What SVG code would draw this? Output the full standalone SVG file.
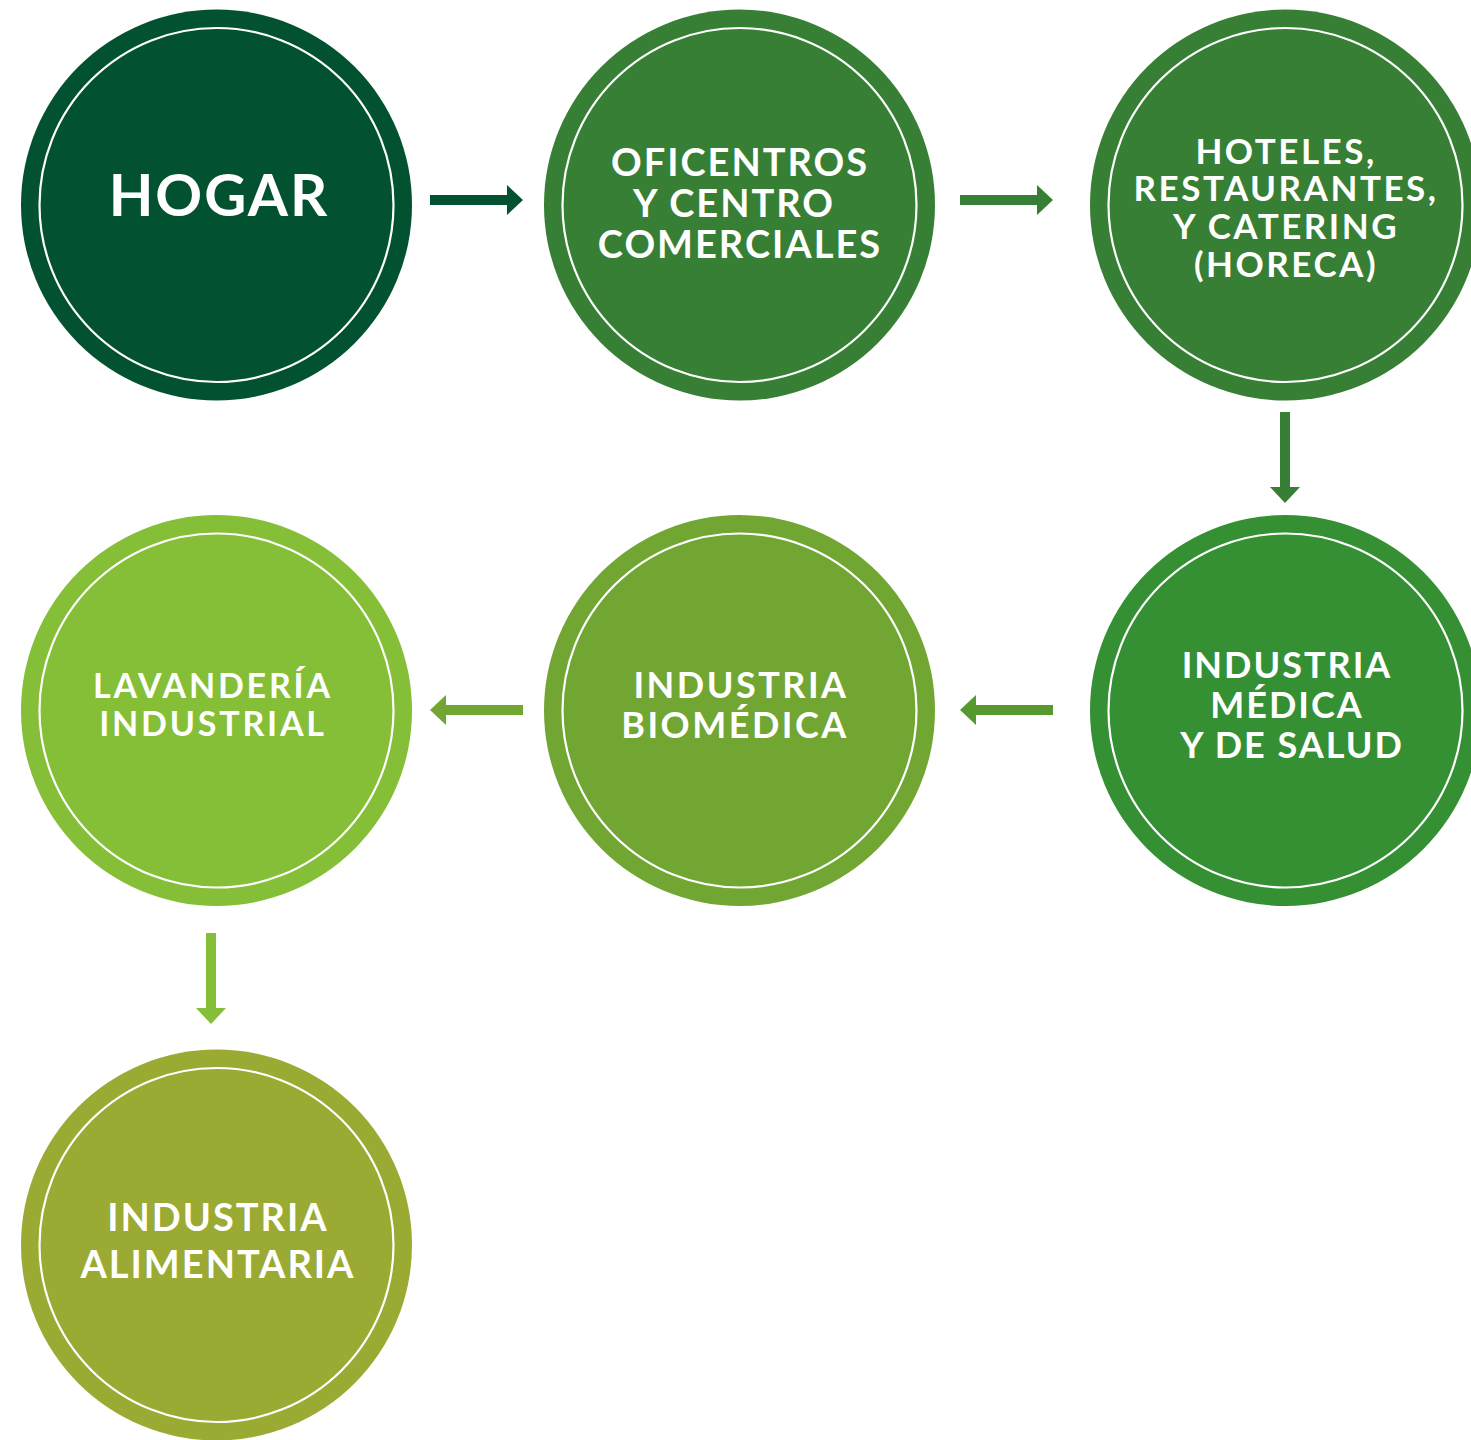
<svg xmlns="http://www.w3.org/2000/svg" width="1471" height="1440" viewBox="0 0 1471 1440">
<style>
.ring{fill:none;stroke:#ffffff;stroke-width:2.2}
.t{font-family:Lato,"Open Sans","Liberation Sans",sans-serif;font-weight:bold;fill:#ffffff;text-anchor:middle;letter-spacing:2px}
</style>
<rect width="1471" height="1440" fill="#ffffff"/>
<g id="connectors">
<polygon fill="#025232" points="430,195 507,195 507,185 523,200 507,215 507,205 430,205"/>
<polygon fill="#367F34" points="960,195 1037,195 1037,185 1053,200 1037,215 1037,205 960,205"/>
<polygon fill="#367F34" points="1280,412 1290,412 1290,487 1300,487 1285,503 1270,487 1280,487"/>
<polygon fill="#55992F" points="1053,705 976,705 976,695 960,710 976,725 976,715 1053,715"/>
<polygon fill="#71A633" points="523,705 446,705 446,695 430,710 446,725 446,715 523,715"/>
<polygon fill="#84BF37" points="206,933 216,933 216,1008 226,1008 211,1024 196,1008 206,1008"/>
</g>
<g id="hogar">
<circle cx="216.5" cy="205" r="195.5" fill="#025232"/>
<circle class="ring" cx="216.5" cy="205" r="177"/>
<text class="t" x="219" y="216" font-size="58" style="letter-spacing:2px">HOGAR</text>
</g>
<g id="oficentros">
<circle cx="739.5" cy="205" r="195.5" fill="#367F34"/>
<circle class="ring" cx="739.5" cy="205" r="177"/>
<text class="t" x="740" y="176" font-size="38">OFICENTROS</text>
<text class="t" x="734" y="217" font-size="38">Y CENTRO</text>
<text class="t" x="740" y="258" font-size="38">COMERCIALES</text>
</g>
<g id="horeca">
<circle cx="1285.5" cy="205" r="195.5" fill="#367F34"/>
<circle class="ring" cx="1285.5" cy="205" r="177"/>
<text class="t" x="1286" y="164" font-size="35" style="letter-spacing:2.5px">HOTELES,</text>
<text class="t" x="1286" y="201" font-size="35" style="letter-spacing:2.5px">RESTAURANTES,</text>
<text class="t" x="1286" y="239" font-size="35" style="letter-spacing:2.5px">Y CATERING</text>
<text class="t" x="1286" y="277" font-size="35" style="letter-spacing:2.5px">(HORECA)</text>
</g>
<g id="medica">
<circle cx="1285.5" cy="710.5" r="195.5" fill="#349033"/>
<circle class="ring" cx="1285.5" cy="710.5" r="177"/>
<text class="t" x="1287" y="678" font-size="36">INDUSTRIA</text>
<text class="t" x="1287" y="718" font-size="36">MÉDICA</text>
<text class="t" x="1292" y="758" font-size="36">Y DE SALUD</text>
</g>
<g id="biomedica">
<circle cx="739.5" cy="710.5" r="195.5" fill="#71A633"/>
<circle class="ring" cx="739.5" cy="710.5" r="177"/>
<text class="t" x="741" y="698" font-size="36" style="letter-spacing:2.5px">INDUSTRIA</text>
<text class="t" x="735" y="738" font-size="36" style="letter-spacing:2.5px">BIOMÉDICA</text>
</g>
<g id="lavanderia">
<circle cx="216.5" cy="710.5" r="195.5" fill="#84BF37"/>
<circle class="ring" cx="216.5" cy="710.5" r="177"/>
<text class="t" x="213" y="698" font-size="34" style="letter-spacing:2.8px">LAVANDERÍA</text>
<text class="t" x="213" y="736" font-size="34" style="letter-spacing:2.8px">INDUSTRIAL</text>
</g>
<g id="alimentaria">
<circle cx="216.5" cy="1245" r="195.5" fill="#9AAA33"/>
<circle class="ring" cx="216.5" cy="1245" r="177"/>
<text class="t" x="218" y="1231" font-size="38">INDUSTRIA</text>
<text class="t" x="218" y="1278" font-size="38">ALIMENTARIA</text>
</g>
</svg>
